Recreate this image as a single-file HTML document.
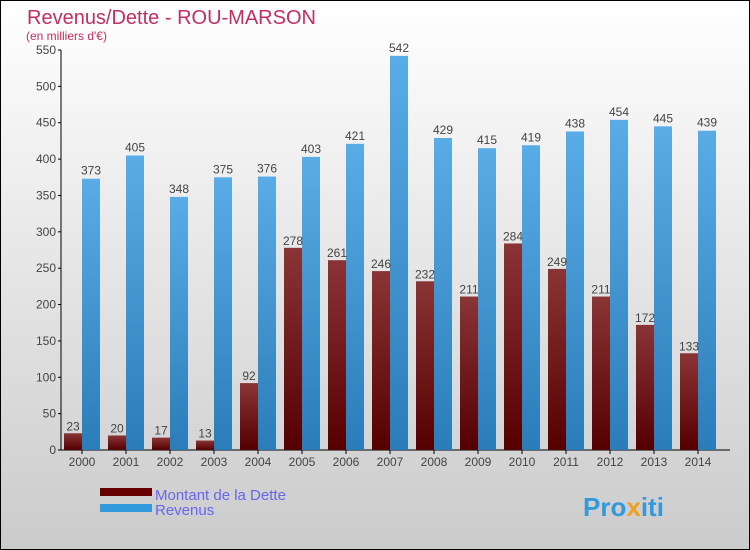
<!DOCTYPE html>
<html><head><meta charset="utf-8"><style>
body{margin:0}
#c{width:750px;height:550px;position:relative;overflow:hidden}
svg text{font-family:"Liberation Sans",sans-serif}
</style></head><body>
<div id="c">
<svg id="s" width="750" height="550">
<defs>
<linearGradient id="bg" x1="0" y1="0" x2="0" y2="1"><stop offset="0" stop-color="#ffffff"/><stop offset="1" stop-color="#cbcbcb"/></linearGradient>
<linearGradient id="gd" x1="0" y1="0" x2="0" y2="1"><stop offset="0" stop-color="#8a3535"/><stop offset="1" stop-color="#550000"/></linearGradient>
<linearGradient id="gr" x1="0" y1="0" x2="0" y2="1"><stop offset="0" stop-color="#5aace6"/><stop offset="1" stop-color="#2a7db8"/></linearGradient>
</defs>
<rect x="0.5" y="0.5" width="749" height="549" fill="url(#bg)" stroke="#000"/>
<text x="27" y="24" font-size="20" fill="#c0305e">Revenus/Dette - ROU-MARSON</text>
<text x="26" y="40" font-size="12" fill="#c0305e">(en milliers d'€)</text>
<g id="plot"></g>
<rect x="100" y="488" width="52" height="8" fill="#660000"/>
<text x="155" y="500" font-size="15" fill="#6666ee">Montant de la Dette</text>
<rect x="100" y="504" width="52" height="8" fill="#3399dd"/>
<text x="155" y="515" font-size="15" fill="#6666ee">Revenus</text>
<text x="583" y="516" font-size="26" font-weight="bold" fill="#3399dd">Pro<tspan fill="#f0a020">x</tspan>iti</text>
</svg></div>
<script>
const years=["2000","2001","2002","2003","2004","2005","2006","2007","2008","2009","2010","2011","2012","2013","2014"];
const dette=[23,20,17,13,92,278,261,246,232,211,284,249,211,172,133];
const revenus=[373,405,348,375,376,403,421,542,429,415,419,438,454,445,439];
const yTicks=[0,50,100,150,200,250,300,350,400,450,500,550];
const NS="http://www.w3.org/2000/svg";
const g=document.getElementById('plot');
const y0=450,yMax=550,ph=400;
function yS(v){return y0-v/yMax*ph;}
function xS(i){return 64+44*i;}
function mk(t,a,txt){const e=document.createElementNS(NS,t);for(const k in a)e.setAttribute(k,a[k]);if(txt!==undefined)e.textContent=txt;g.appendChild(e);return e;}
let ax=mk('line',{x1:61,y1:50,x2:61,y2:450,stroke:'#000'});


let bx=mk('line',{x1:58,y1:450,x2:730,y2:450,stroke:'#000'});


yTicks.forEach(v=>{
 const y=yS(v);
 let t=mk('line',{x1:58,y1:y,x2:61,y2:y,stroke:'#000'});
 
 
 let l=mk('text',{x:56,y:y+4,'font-size':12,fill:'#444','text-anchor':'end'},v);
 
 
});
years.forEach((yr,i)=>{
 const x=xS(i);
 let t=mk('line',{x1:x+18,y1:450,x2:x+18,y2:454,stroke:'#000'});
 
 
 let l=mk('text',{x:x+18,y:466,'font-size':12,fill:'#444','text-anchor':'middle'},yr);
 
 
 let b1=mk('rect',{x:x,y:yS(dette[i]),width:18,height:y0-yS(dette[i]),fill:'url(#gd)'});
 
 
 let b2=mk('rect',{x:x+18,y:yS(revenus[i]),width:18,height:y0-yS(revenus[i]),fill:'url(#gr)'});
 
 
 let v1=mk('text',{x:x+9,y:yS(dette[i])-3,'font-size':12,fill:'#444','text-anchor':'middle'},dette[i]);
 
 
 let v2=mk('text',{x:x+27,y:yS(revenus[i])-4,'font-size':12,fill:'#444','text-anchor':'middle'},revenus[i]);
 
 
});
</script>
</body></html>
